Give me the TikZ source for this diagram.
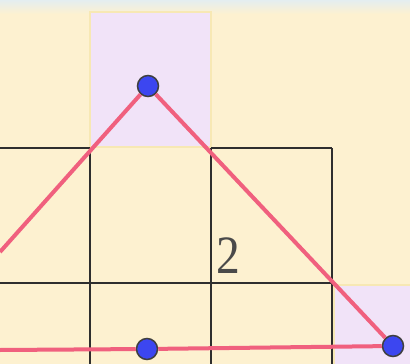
\documentclass[tikz,border=0pt]{standalone}
\usepackage{fontspec}
\setmainfont{Liberation Serif}
\definecolor{cream}{HTML}{FDF1D0}
\definecolor{skyband}{HTML}{E4EEF0}
\definecolor{lilac}{HTML}{F1E3F8}
\definecolor{paleedge}{HTML}{F7E8B4}
\definecolor{gridline}{HTML}{2E2E2E}
\definecolor{redline}{HTML}{F0607E}
\definecolor{dotblue}{HTML}{3C46F0}
\definecolor{digitgray}{HTML}{4A4A4A}
\begin{document}
\begin{tikzpicture}[x=1pt,y=-1pt,
    grid/.style={draw=gridline,line width=2.4pt},
    side/.style={draw=redline,line width=4pt},
    dot/.style={circle,fill=dotblue,draw=black!75,line width=1.5pt,minimum size=21pt,inner sep=0pt}]
\useasboundingbox (0,0) rectangle (410,364);
\fill[cream] (0,0) rectangle (410,364);
\shade[top color=skyband,bottom color=cream] (0,0) rectangle (410,14);
% shaded cells
\foreach \x/\y/\w/\h in {90/12/121/135,334/285/80/84} {
    \fill[lilac] (\x,\y) rectangle ++(\w,\h);
    \draw[paleedge,line width=2pt] (\x,\y) rectangle ++(\w,\h);
}
% grid
\draw[grid] (0,148) -- (90,148) (211,148) -- (332,148) (0,283) -- (332,283);
\foreach \x in {90,211,332} {
    \draw[grid] (\x,148) -- (\x,364);
}
\node[anchor=base west,inner sep=0pt,text=digitgray,transform shape,xscale=0.88,
    font=\fontsize{54}{54}\selectfont] (two) at (216,273) {2};
% points and sides
\node[dot] (apex) at (148,86) {};
\node[dot] (mid) at (147,349) {};
\node[dot] (corner) at (393,346) {};
\coordinate (leftup) at (0,252);
\coordinate (leftlow) at (0,350);
\draw[side] (leftup) -- (apex);
\draw[side] (apex) -- (corner);
\draw[side] (corner) -- (mid);
\draw[side] (mid) -- (leftlow);
\end{tikzpicture}
\end{document}
